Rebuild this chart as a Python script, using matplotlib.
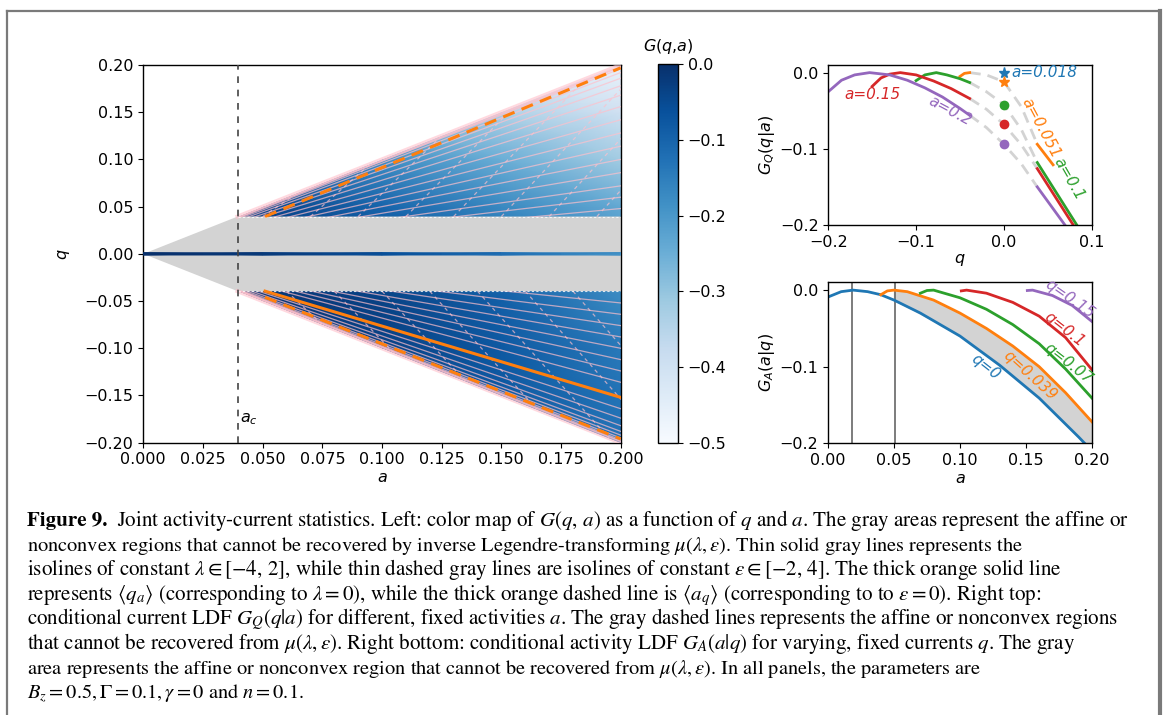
import numpy as np
import matplotlib.pyplot as plt
from matplotlib.path import Path
from matplotlib.patches import PathPatch
from matplotlib.lines import Line2D

plt.rcParams['font.size'] = 11.5
plt.rcParams['axes.linewidth'] = 1.0

# ---------------- data ----------------
# left panel: joint LDF G(q,a) on a coarse grid
grid_a = [0.0, 0.05, 0.10, 0.15, 0.20]
grid_q = [-0.20, -0.15, -0.10, -0.05, 0.0, 0.05, 0.10, 0.15, 0.20]
grid_G = [
    [-0.04, -0.05, -0.06, -0.09, -0.13],
    [-0.03, -0.03, -0.05, -0.08, -0.13],
    [-0.02, -0.02, -0.035, -0.08, -0.14],
    [-0.01, -0.01, -0.035, -0.09, -0.17],
    [0.00, -0.02, -0.06, -0.12, -0.19],
    [-0.10, -0.04, -0.10, -0.17, -0.24],
    [-0.20, -0.15, -0.18, -0.25, -0.32],
    [-0.30, -0.30, -0.30, -0.34, -0.40],
    [-0.40, -0.45, -0.45, -0.45, -0.47],
]
line_q0_a = [0.0, 0.05, 0.10, 0.15, 0.20]
line_q0_G = [0.0, -0.02, -0.06, -0.12, -0.19]

a_c = 0.0395
band_q = 0.0395

# thin solid isolines (constant lambda): q/a ratios
lam_ratio_up = [0.24, 0.30, 0.36, 0.43, 0.50, 0.57, 0.64, 0.71, 0.78, 0.84, 0.89, 0.93, 0.96, 0.98, 0.99]
lam_ratio_dn = [-0.26, -0.32, -0.38, -0.44, -0.50, -0.56, -0.62, -0.68, -0.82, -0.87, -0.91,
                -0.94, -0.96, -0.975, -0.985, -0.993]
# thin dashed isolines (constant epsilon): start a on band edge, end a on wedge edge
eps_start_dn = [0.06, 0.08, 0.10, 0.12, 0.14, 0.16, 0.18]
eps_end_dn = [0.075, 0.105, 0.135, 0.165, 0.195, 0.225, 0.255]
eps_start_up = [0.05, 0.07, 0.09, 0.11, 0.13, 0.15, 0.17, 0.19]
eps_end_up = [0.065, 0.095, 0.125, 0.155, 0.185, 0.215, 0.245, 0.275]

# thick orange lines
mean_q_a = [0.051, 0.20]
mean_q_q = [-0.0395, -0.152]
mean_a_up_a = [0.051, 0.20]
mean_a_up_q = [0.0395, 0.197]
mean_a_dn_a = [0.051, 0.20]
mean_a_dn_q = [-0.046, -0.196]

# right top: G_Q(q|a)
gq_colors = ['C1', 'C2', 'C3', 'C4']
gq_left_q = [
    [-0.050, -0.045, -0.039],
    [-0.100, -0.090, -0.077, -0.065, -0.050, -0.039],
    [-0.150, -0.140, -0.130, -0.118, -0.100, -0.080, -0.060, -0.039],
    [-0.200, -0.185, -0.170, -0.153, -0.130, -0.110, -0.090, -0.070, -0.050, -0.039],
]
gq_left_G = [
    [-0.005, -0.001, 0.0],
    [-0.0105, -0.003, 0.0, -0.003, -0.008, -0.013],
    [-0.018, -0.007, -0.002, 0.0, -0.003, -0.011, -0.021, -0.034],
    [-0.025, -0.010, -0.003, 0.0, -0.003, -0.010, -0.020, -0.032, -0.047, -0.056],
]
gq_right_q = [[0.038, 0.056], [0.038, 0.083], [0.038, 0.079], [0.038, 0.0695]]
gq_right_G = [[-0.094, -0.121], [-0.118, -0.200], [-0.126, -0.200], [-0.150, -0.200]]
gq_dash_q = [-0.039, -0.02, 0.0, 0.02, 0.038]
gq_dash_G = [
    [0.0, -0.003, -0.012, -0.045, -0.094],
    [-0.013, -0.025, -0.042, -0.075, -0.118],
    [-0.034, -0.048, -0.068, -0.095, -0.126],
    [-0.056, -0.072, -0.094, -0.120, -0.150],
]
gq_mark_G = [-0.012, -0.042, -0.068, -0.094]

# right bottom: G_A(a|q)
ga_colors = ['C0', 'C1', 'C2', 'C3', 'C4']
ga_a = [
    [0.0, 0.01, 0.019, 0.03, 0.04, 0.05, 0.07, 0.10, 0.13, 0.16, 0.19, 0.2],
    [0.040, 0.045, 0.050, 0.060, 0.080, 0.10, 0.12, 0.14, 0.16, 0.18, 0.20],
    [0.070, 0.075, 0.080, 0.10, 0.12, 0.14, 0.16, 0.18, 0.20],
    [0.101, 0.105, 0.12, 0.14, 0.16, 0.18, 0.20],
    [0.151, 0.155, 0.17, 0.185, 0.20],
]
ga_G = [
    [-0.009, -0.002, 0.0, -0.002, -0.006, -0.013, -0.030, -0.060, -0.098, -0.141, -0.192, -0.210],
    [-0.006, -0.001, 0.0, -0.002, -0.013, -0.030, -0.050, -0.073, -0.100, -0.134, -0.172],
    [-0.004, -0.0005, 0.0, -0.010, -0.025, -0.045, -0.070, -0.103, -0.141],
    [-0.001, 0.0, -0.004, -0.016, -0.034, -0.062, -0.104],
    [-0.0005, 0.0, -0.007, -0.020, -0.041],
]
ga_labels = ['q=0', 'q=0.039', 'q=0.07', 'q=0.1', 'q=0.15']
ga_vlines = [0.018, 0.051]

# ---------------- figure ----------------
fig = plt.figure(figsize=(11.63, 7.15), dpi=100)
W, H = 1163.0, 715.0


def rect(x0, y0, x1, y1):
    return [x0 / W, 1 - y1 / H, (x1 - x0) / W, (y1 - y0) / H]


# outer frame (no bottom edge)
fig.add_artist(Line2D([7 / W, 7 / W], [0, 1 - 11 / H], color='#7a7a7a', lw=1.6))
fig.add_artist(Line2D([7 / W, 1159 / W], [1 - 11 / H, 1 - 11 / H], color='#7a7a7a', lw=1.6))
fig.add_artist(Line2D([1159.5 / W, 1159.5 / W], [0, 1 - 11 / H], color='#7a7a7a', lw=3.0))

# ---- left panel ----
ax = fig.add_axes(rect(143.3, 65, 620.7, 442.7))
up = Path([(a_c, band_q), (0.2, 0.2), (0.2, band_q), (a_c, band_q)], closed=True)
dn = Path([(a_c, -band_q), (0.2, -0.2), (0.2, -band_q), (a_c, -band_q)], closed=True)
wedge = PathPatch(Path.make_compound_path(up, dn), transform=ax.transData, fc='none', ec='none')

A, Q = np.meshgrid(grid_a, grid_q)
mesh = ax.pcolormesh(A, Q, np.array(grid_G), cmap='Blues', vmin=-0.5, vmax=0.0,
                     shading='gouraud', zorder=1)
mesh.set_clip_path(wedge)

gray = plt.Polygon([(0, 0), (a_c, band_q), (0.2, band_q), (0.2, -band_q), (a_c, -band_q)],
                   closed=True, fc='lightgray', ec='none', zorder=2)
ax.add_patch(gray)

# q = 0 line coloured by G
A0, Q0 = np.meshgrid(line_q0_a, [-0.0012, 0.0012])
ax.pcolormesh(A0, Q0, np.array([line_q0_G, line_q0_G]), cmap='Blues', vmin=-0.5, vmax=0.0,
              shading='gouraud', zorder=3)

iso_kw = dict(color='pink', lw=0.9, alpha=0.7, zorder=4)
for r in lam_ratio_up + lam_ratio_dn:
    ln, = ax.plot([0, 0.2], [0, 0.2 * r], **iso_kw)
    ln.set_clip_path(wedge)
for s, e in zip(eps_start_dn, eps_end_dn):
    ln, = ax.plot([s, e], [-band_q, -e], ls=(0, (3, 3)), **iso_kw)
    ln.set_clip_path(wedge)
for s, e in zip(eps_start_up, eps_end_up):
    ln, = ax.plot([s, e], [band_q, e], ls=(0, (3, 3)), **iso_kw)
    ln.set_clip_path(wedge)
# pink fuzz along the wedge edges
ax.plot([a_c, 0.2], [a_c, 0.2], color='pink', lw=3, alpha=0.6, zorder=4)
ax.plot([a_c, 0.2], [-a_c, -0.2], color='pink', lw=3, alpha=0.6, zorder=4)
ax.plot([a_c, 0.2], [band_q, band_q], color='white', lw=0.8, ls=(0, (2, 2)), alpha=0.8, zorder=4)
ax.plot([a_c, 0.2], [-band_q, -band_q], color='white', lw=0.8, ls=(0, (2, 2)), alpha=0.8, zorder=4)

ax.plot(mean_q_a, mean_q_q, color='C1', lw=2.2, zorder=5)
ax.plot(mean_a_up_a, mean_a_up_q, color='C1', lw=2.2, ls=(0, (4, 2.5)), zorder=5)
ax.plot(mean_a_dn_a, mean_a_dn_q, color='C1', lw=2.2, ls=(0, (4, 2.5)), zorder=5)

ax.axvline(a_c, color='#444444', lw=1.2, ls=(0, (4, 4)), zorder=6)
ax.text(a_c + 0.0012, -0.175, '$a_c$', fontsize=11.5, va='center', ha='left')

ax.set_xlim(0, 0.2)
ax.set_ylim(-0.2, 0.2)
ax.set_xticks(np.arange(0, 0.2001, 0.025))
ax.set_yticks(np.arange(-0.2, 0.2001, 0.05))
ax.set_xlabel('$a$', labelpad=2)
ax.set_ylabel('$q$', labelpad=9)

cax = fig.add_axes(rect(658, 64, 678, 443))
cb = fig.colorbar(mesh, cax=cax)
cb.set_ticks([0.0, -0.1, -0.2, -0.3, -0.4, -0.5])
cb.outline.set_linewidth(1.0)
cax.set_title('$G(q{,}a)$', fontsize=11.5, pad=9)

# ---- right top ----
ax2 = fig.add_axes(rect(828.3, 65, 1091.7, 225))
for i in range(4):
    ax2.plot(gq_dash_q, gq_dash_G[i], color='lightgray', lw=2, ls=(0, (4, 2.5)), zorder=1)
for i in range(4):
    ax2.plot(gq_left_q[i], gq_left_G[i], color=gq_colors[i], lw=2, zorder=2)
    ax2.plot(gq_right_q[i], gq_right_G[i], color=gq_colors[i], lw=2, zorder=2)
ax2.plot([0], [0], marker='*', color='C0', ms=8, ls='none', zorder=3)
ax2.plot([0], [gq_mark_G[0]], marker='*', color='C1', ms=8, ls='none', zorder=3)
for i in range(1, 4):
    ax2.plot([0], [gq_mark_G[i]], marker='o', color=gq_colors[i], ms=6, ls='none', zorder=3)
lab_kw = dict(fontsize=11, style='italic', ha='center', va='center')
ax2.text(0.008, 0.0, 'a=0.018', color='C0', ha='left', va='center', fontsize=11, style='italic')
ax2.text(-0.15, -0.029, 'a=0.15', color='C3', **lab_kw)
ax2.text(-0.061, -0.050, 'a=0.2', color='C4', rotation=-28, **lab_kw)
ax2.text(0.0425, -0.073, 'a=0.051', color='C1', rotation=-62, **lab_kw)
ax2.text(0.0735, -0.140, 'a=0.1', color='C2', rotation=-60, **lab_kw)
ax2.set_xlim(-0.2, 0.1)
ax2.set_ylim(-0.2, 0.01)
ax2.set_xticks([-0.2, -0.1, 0.0, 0.1])
ax2.set_yticks([-0.2, -0.1, 0.0])
ax2.set_xlabel('$q$', labelpad=2)
ax2.set_ylabel('$G_Q(q|a)$', labelpad=2)

# ---- right bottom ----
ax3 = fig.add_axes(rect(828, 281.7, 1092, 443.3))
ax3.fill_between(ga_a[1], np.interp(ga_a[1], ga_a[0], ga_G[0]), ga_G[1],
                 where=np.array(ga_a[1]) >= 0.05, color='lightgray', zorder=1)
for v in ga_vlines:
    ax3.axvline(v, color='#666666', lw=1.2, zorder=1)
for i in range(5):
    ax3.plot(ga_a[i], ga_G[i], color=ga_colors[i], lw=2, zorder=2)
ax3.text(0.119, -0.101, ga_labels[0], color='C0', rotation=-38, **lab_kw)
ax3.text(0.153, -0.111, ga_labels[1], color='C1', rotation=-42, **lab_kw)
ax3.text(0.182, -0.096, ga_labels[2], color='C2', rotation=-38, **lab_kw)
ax3.text(0.179, -0.051, ga_labels[3], color='C3', rotation=-38, **lab_kw)
ax3.text(0.183, -0.012, ga_labels[4], color='C4', rotation=-35, **lab_kw)
ax3.set_xlim(0, 0.2)
ax3.set_ylim(-0.2, 0.011)
ax3.set_xticks([0.0, 0.05, 0.10, 0.15, 0.20])
ax3.set_yticks([-0.2, -0.1, 0.0])
ax3.set_xlabel('$a$', labelpad=2)
ax3.set_ylabel('$G_A(a|q)$', labelpad=2)

# ---- caption ----
cap_kw = dict(family='STIXGeneral', math_fontfamily='stix', va='baseline', ha='left')
caption = [
    r'Joint activity-current statistics. Left: color map of $G(q,\,a)$ as a function of $q$ and $a$. The gray areas represent the affine or',
    r'nonconvex regions that cannot be recovered by inverse Legendre-transforming $\mu(\lambda,\varepsilon)$. Thin solid gray lines represents the',
    r'isolines of constant $\lambda \in [-4,\,2]$, while thin dashed gray lines are isolines of constant $\varepsilon \in [-2,\,4]$. The thick orange solid line',
    r'represents $\langle q_a\rangle$ (corresponding to $\lambda = 0$), while the thick orange dashed line is $\langle a_q\rangle$ (corresponding to to $\varepsilon = 0$). Right top:',
    r'conditional current LDF $G_Q(q|a)$ for different, fixed activities $a$. The gray dashed lines represents the affine or nonconvex regions',
    r'that cannot be recovered from $\mu(\lambda,\varepsilon)$. Right bottom: conditional activity LDF $G_A(a|q)$ for varying, fixed currents $q$. The gray',
    r'area represents the affine or nonconvex region that cannot be recovered from $\mu(\lambda,\varepsilon)$. In all panels, the parameters are',
    r'$B_z = 0.5, \Gamma = 0.1, \gamma = 0$ and $n = 0.1$.',
]
# right end (pixels) of each caption line in the reference, used to nudge the font size
cap_right = [1143, 997, 1126, 1107, 1134, 1089, 981, 283]
x0_px = 27.0
base0 = 526.0
step = 24.7
fs0 = 14.9
rnd = fig.canvas.get_renderer()
for i, line in enumerate(caption):
    y = 1 - (base0 + i * step) / H
    fs = fs0
    for k in range(2):
        parts = []
        x = x0_px / W
        if i == 0:
            tb = fig.text(x, y, 'Figure 9.', fontweight='bold', fontsize=fs, **cap_kw)
            x = (tb.get_window_extent(rnd).x1 + 0.6 * fs) / W
            parts.append(tb)
        t = fig.text(x, y, line, fontsize=fs, **cap_kw)
        parts.append(t)
        if k == 0:
            right = t.get_window_extent(rnd).x1
            for p in parts:
                p.remove()
            scale = (cap_right[i] - x0_px) / (right - x0_px)
            fs = fs0 * min(1.015, max(0.985, scale))

fig.savefig('out.png', dpi=100)
